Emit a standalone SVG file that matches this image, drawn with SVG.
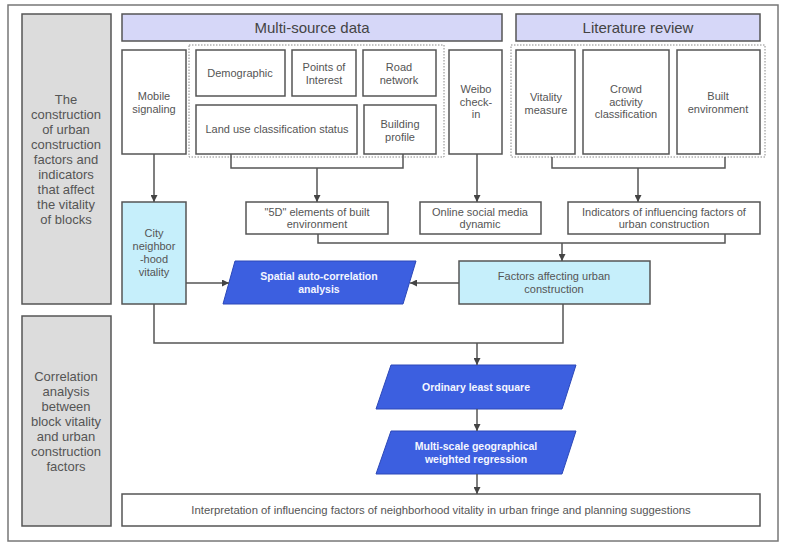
<svg xmlns="http://www.w3.org/2000/svg" width="785" height="547" viewBox="0 0 785 547">
<defs>
<style>
.frame{fill:#fff;stroke:#777;stroke-width:1.5}
.side{fill:#dcdcdc;stroke:#555;stroke-width:1.5}
.hdr{fill:#d6d7f8;stroke:#555;stroke-width:1.5}
.box{fill:#fff;stroke:#555;stroke-width:1.5}
.cyan{fill:#c6effb;stroke:#555;stroke-width:1.5}
.blue{fill:#3c5fe0;stroke:#2c48b8;stroke-width:1}
.dot{fill:none;stroke:#888;stroke-width:1;stroke-dasharray:1.5 1.5}
.ln{fill:none;stroke:#555;stroke-width:1.5}
text{font-family:"Liberation Sans",Arial,sans-serif;text-anchor:middle;fill:#555}
.t{font-size:11px}
.s{font-size:13px}
.h{font-size:15px;fill:#444}
.w{font-size:10.5px;font-weight:bold;fill:#f4f6ff}
.f{font-size:11.3px}
</style>
<marker id="ah" viewBox="0 0 10 10" refX="10" refY="5" markerWidth="7" markerHeight="7" orient="auto" markerUnits="userSpaceOnUse">
<path d="M0,0 L10,5 L0,10 z" fill="#444"/>
</marker>
</defs>
<rect x="0" y="0" width="785" height="547" fill="#fff"/>
<rect class="frame" x="8" y="5" width="770" height="536"/>

<g id="side1">
<rect class="side" x="22" y="14" width="89" height="290"/>
<text class="s"><tspan x="66" y="104">The</tspan><tspan x="66" y="119">construction</tspan><tspan x="66" y="134">of urban</tspan><tspan x="66" y="149">construction</tspan><tspan x="66" y="164">factors and</tspan><tspan x="66" y="179">indicators</tspan><tspan x="66" y="194">that affect</tspan><tspan x="66" y="209">the vitality</tspan><tspan x="66" y="224">of blocks</tspan></text>
</g>
<g id="side2">
<rect class="side" x="22" y="316" width="89" height="210"/>
<text class="s"><tspan x="66" y="381">Correlation</tspan><tspan x="66" y="396">analysis</tspan><tspan x="66" y="411">between</tspan><tspan x="66" y="426">block vitality</tspan><tspan x="66" y="441">and urban</tspan><tspan x="66" y="456">construction</tspan><tspan x="66" y="471">factors</tspan></text>
</g>

<g id="hdr-multi">
<rect class="hdr" x="122" y="14" width="380" height="27"/>
<text class="h" x="312" y="33">Multi-source data</text>
</g>
<g id="hdr-lit">
<rect class="hdr" x="516" y="14" width="244" height="27"/>
<text class="h" x="638" y="33">Literature review</text>
</g>

<g id="grp1"><rect class="dot" x="189" y="45" width="255" height="112"/></g>
<g id="grp2"><rect class="dot" x="511" y="45" width="254" height="112"/></g>

<g id="mobile">
<rect class="box" x="122" y="50" width="64" height="104"/>
<text class="t"><tspan x="154" y="100">Mobile</tspan><tspan x="154" y="112.5">signaling</tspan></text>
</g>
<g id="demographic">
<rect class="box" x="196" y="50" width="89" height="46"/>
<text class="t" x="240" y="77">Demographic</text>
</g>
<g id="poi">
<rect class="box" x="292" y="50" width="64" height="46"/>
<text class="t"><tspan x="324" y="71">Points of</tspan><tspan x="324" y="83.5">Interest</tspan></text>
</g>
<g id="road">
<rect class="box" x="363" y="50" width="73" height="46"/>
<text class="t"><tspan x="399" y="71">Road</tspan><tspan x="399" y="83.5">network</tspan></text>
</g>
<g id="landuse">
<rect class="box" x="196" y="105" width="161" height="49"/>
<text class="t" x="277" y="133">Land use classification status</text>
</g>
<g id="building">
<rect class="box" x="364" y="105" width="72" height="49"/>
<text class="t"><tspan x="400" y="128">Building</tspan><tspan x="400" y="140.5">profile</tspan></text>
</g>
<g id="weibo">
<rect class="box" x="449" y="50" width="53" height="104"/>
<text class="t"><tspan x="476" y="93">Weibo</tspan><tspan x="476" y="105.5">check-</tspan><tspan x="476" y="118">in</tspan></text>
</g>
<g id="vitality">
<rect class="box" x="516" y="50" width="59" height="104"/>
<text class="t"><tspan x="546" y="101">Vitality</tspan><tspan x="546" y="113.5">measure</tspan></text>
</g>
<g id="crowd">
<rect class="box" x="583" y="50" width="86" height="104"/>
<text class="t"><tspan x="626" y="93">Crowd</tspan><tspan x="626" y="105.5">activity</tspan><tspan x="626" y="118">classification</tspan></text>
</g>
<g id="built">
<rect class="box" x="677" y="50" width="83" height="104"/>
<text class="t"><tspan x="718" y="100">Built</tspan><tspan x="718" y="112.5">environment</tspan></text>
</g>

<g id="fived">
<rect class="box" x="246" y="202" width="142" height="32"/>
<text class="t"><tspan x="317" y="215.5">"5D" elements of built</tspan><tspan x="317" y="228">environment</tspan></text>
</g>
<g id="online">
<rect class="box" x="420" y="202" width="121" height="32"/>
<text class="t"><tspan x="480" y="215.5">Online social media</tspan><tspan x="480" y="228">dynamic</tspan></text>
</g>
<g id="indicators">
<rect class="box" x="568" y="202" width="192" height="32"/>
<text class="t"><tspan x="664" y="215.5">Indicators of influencing factors of</tspan><tspan x="664" y="228">urban construction</tspan></text>
</g>

<g id="city">
<rect class="cyan" x="122" y="202" width="64" height="102"/>
<text class="t"><tspan x="154" y="237">City</tspan><tspan x="154" y="250">neighbor</tspan><tspan x="154" y="263">-hood</tspan><tspan x="154" y="276">vitality</tspan></text>
</g>
<g id="spatial">
<polygon class="blue" points="235,261 416,261 403,304 223,304"/>
<text class="w"><tspan x="319" y="280">Spatial auto-correlation</tspan><tspan x="319" y="292.5">analysis</tspan></text>
</g>
<g id="factors">
<rect class="cyan" x="459" y="261" width="191" height="43"/>
<text class="t"><tspan x="554" y="280">Factors affecting urban</tspan><tspan x="554" y="292.5">construction</tspan></text>
</g>
<g id="ols">
<polygon class="blue" points="391,365 576,365 562,409 376,409"/>
<text class="w" x="476" y="391">Ordinary least square</text>
</g>
<g id="mgwr">
<polygon class="blue" points="391,431 576,431 562,474 376,474"/>
<text class="w"><tspan x="476" y="450">Multi-scale geographical</tspan><tspan x="476" y="462.5">weighted regression</tspan></text>
</g>
<g id="final">
<rect class="box" x="122" y="494" width="638" height="32"/>
<text class="f" x="441" y="514">Interpretation of influencing factors of neighborhood vitality in urban fringe and planning suggestions</text>
</g>

<g id="connectors">
<path class="ln" d="M231,154 V168 H403 V154"/>
<path class="ln" d="M317,168 V202" marker-end="url(#ah)"/>
<path class="ln" d="M552,157 V168 H725 V157"/>
<path class="ln" d="M638,168 V202" marker-end="url(#ah)"/>
<path class="ln" d="M477,154 V202" marker-end="url(#ah)"/>
<path class="ln" d="M154,154 V202" marker-end="url(#ah)"/>
<path class="ln" d="M318,234 V243 H725 V234"/>
<path class="ln" d="M562,243 V261" marker-end="url(#ah)"/>
<path class="ln" d="M186,283 H229" marker-end="url(#ah)"/>
<path class="ln" d="M459,283 H410" marker-end="url(#ah)"/>
<path class="ln" d="M154,304 V343 H563 V304"/>
<path class="ln" d="M477,343 V365" marker-end="url(#ah)"/>
<path class="ln" d="M477,409 V431" marker-end="url(#ah)"/>
<path class="ln" d="M477,474 V494" marker-end="url(#ah)"/>
</g>
</svg>
